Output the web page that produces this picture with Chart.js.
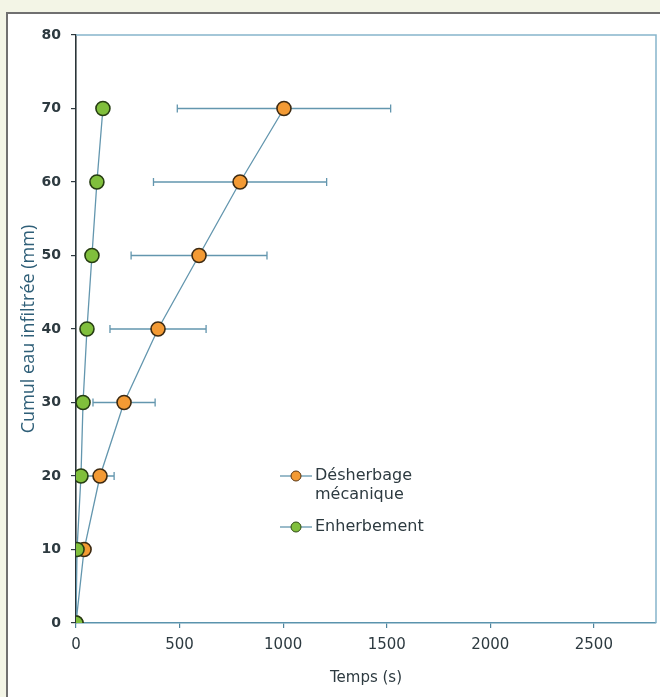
<!DOCTYPE html>
<html>
<head>
<meta charset="utf-8">
<script src="https://cdn.jsdelivr.net/npm/chart.js@4.4.1/dist/chart.umd.min.js"></script>
<style>
  html, body { margin: 0; padding: 0; background: #f3f5e6; }
  #wrap { position: relative; width: 660px; height: 697px; overflow: hidden; }
  #panel { position: absolute; left: 6px; top: 12px; width: 680px; height: 720px; background: #fff; border: 2px solid #707070; }
  #infilChart { position: absolute; left: 0; top: 0; }
</style>
</head>
<body>
<div id="wrap">
  <div id="panel"></div>
  <canvas id="infilChart" width="660" height="697"></canvas>
</div>
<script>
// cumulative infiltrated water (mm)
const levels = [0, 10, 20, 30, 40, 50, 60, 70];
// time (s) to reach each level
const desherbageTimes = [0, 39, 116, 232, 396, 594, 792, 1004];
const desherbageErr = [0, 20, 68, 150, 232, 328, 418, 515];
const enherbementTimes = [0, 5, 24, 34, 53, 77, 101, 130];

const xTicks = [0, 500, 1000, 1500, 2000, 2500];
const yTicks = [0, 10, 20, 30, 40, 50, 60, 70, 80];

const lineColor = '#6396ae';
const textColor = '#2d3a40';
const orange = '#f39a34';
const green = '#80bf3c';

const toPoints = (xs) => xs.map((x, i) => ({ x: x, y: levels[i] }));

// horizontal error bars, drawn under the markers
const errorBars = {
  id: 'errorBars',
  beforeDatasetsDraw(chart) {
    const ctx = chart.ctx;
    const xs = chart.scales.x, ys = chart.scales.y;
    ctx.save();
    ctx.strokeStyle = lineColor;
    ctx.lineWidth = 1.3;
    desherbageTimes.forEach((t, i) => {
      const e = desherbageErr[i];
      if (!e) return;
      const y = ys.getPixelForValue(levels[i]);
      const x1 = xs.getPixelForValue(t - e);
      const x2 = xs.getPixelForValue(t + e);
      ctx.beginPath();
      ctx.moveTo(x1, y); ctx.lineTo(x2, y);
      ctx.moveTo(x1, y - 4); ctx.lineTo(x1, y + 4);
      ctx.moveTo(x2, y - 4); ctx.lineTo(x2, y + 4);
      ctx.stroke();
    });
    ctx.restore();
  }
};

// frame on top/right + custom legend with a two-line label
const frameAndLegend = {
  id: 'frameAndLegend',
  beforeDatasetsDraw(chart) {
    const { ctx, chartArea: a } = chart;
    ctx.save();
    ctx.strokeStyle = '#86b5cb';
    ctx.lineWidth = 1.5;
    ctx.beginPath();
    ctx.moveTo(a.left, a.top);
    ctx.lineTo(a.right, a.top);
    ctx.lineTo(a.right, a.bottom);
    ctx.stroke();
    ctx.restore();
  },
  afterDraw(chart) {
    const ctx = chart.ctx;
    const items = [
      { lines: ['Désherbage', 'mécanique'], fill: orange, stroke: '#5a3510', y: 476 },
      { lines: ['Enherbement'], fill: green, stroke: '#2f4a14', y: 527 }
    ];
    ctx.save();
    ctx.font = '16px "DejaVu Sans"';
    ctx.textBaseline = 'middle';
    ctx.fillStyle = textColor;
    items.forEach(it => {
      ctx.strokeStyle = lineColor;
      ctx.lineWidth = 1.3;
      ctx.beginPath();
      ctx.moveTo(280, it.y); ctx.lineTo(312, it.y);
      ctx.stroke();
      ctx.beginPath();
      ctx.arc(296, it.y, 5, 0, Math.PI * 2);
      ctx.fillStyle = it.fill;
      ctx.fill();
      ctx.strokeStyle = it.stroke;
      ctx.lineWidth = 1;
      ctx.stroke();
      ctx.fillStyle = textColor;
      it.lines.forEach((s, k) => ctx.fillText(s, 315, it.y + k * 19));
    });
    ctx.restore();
  }
};

new Chart(document.getElementById('infilChart'), {
  type: 'line',
  data: {
    datasets: [
      {
        label: 'Désherbage mécanique',
        data: toPoints(desherbageTimes),
        borderColor: lineColor,
        borderWidth: 1.3,
        pointBackgroundColor: orange,
        pointBorderColor: '#3d2a12',
        pointBorderWidth: 1.6,
        pointRadius: 7,
        tension: 0,
        order: 1
      },
      {
        label: 'Enherbement',
        data: toPoints(enherbementTimes),
        borderColor: lineColor,
        borderWidth: 1.3,
        pointBackgroundColor: green,
        pointBorderColor: '#263d12',
        pointBorderWidth: 1.6,
        pointRadius: 7,
        tension: 0,
        order: 0
      }
    ]
  },
  options: {
    responsive: false,
    animation: false,
    devicePixelRatio: 1,
    // autoPadding would reserve room for the point radius on the right
    layout: { autoPadding: false, padding: { top: 35, right: 4, left: 0, bottom: 0 } },
    plugins: {
      legend: { display: false },
      tooltip: { enabled: false }
    },
    scales: {
      x: {
        type: 'linear',
        min: 0,
        max: 2800,
        afterBuildTicks: (s) => { s.ticks = xTicks.map(v => ({ value: v })); },
        afterFit: (s) => { s.height = 74; s.paddingRight = 0; s.paddingLeft = 0; },
        ticks: {
          color: textColor,
          font: { family: 'DejaVu Sans', size: 15 },
          padding: 8,
          maxRotation: 0,
          callback: (v) => String(v)
        },
        grid: { drawOnChartArea: false, tickLength: 5, color: '#4f849c', lineWidth: 1.2 },
        border: { color: '#5a93ad', width: 1.6 },
        title: {
          display: true,
          text: 'Temps (s)',
          color: textColor,
          font: { family: 'DejaVu Sans', size: 15 },
          padding: { top: 0, bottom: 10 }
        }
      },
      y: {
        min: 0,
        max: 80,
        afterBuildTicks: (s) => { s.ticks = yTicks.map(v => ({ value: v })); },
        afterFit: (s) => { s.width = 76; },
        ticks: { color: textColor, font: { family: 'DejaVu Sans', size: 14, weight: 'bold' }, padding: 10 },
        grid: { drawOnChartArea: false, tickLength: 5, color: '#2f3b40', lineWidth: 1.2 },
        border: { color: '#2a3438', width: 1.6 },
        title: {
          display: true,
          text: 'Cumul eau infiltrée (mm)',
          color: '#2f5f78',
          font: { family: 'Open Sans', size: 18 },
          padding: { top: 18, bottom: 0 }
        }
      }
    }
  },
  plugins: [errorBars, frameAndLegend]
});
</script>
</body>
</html>
